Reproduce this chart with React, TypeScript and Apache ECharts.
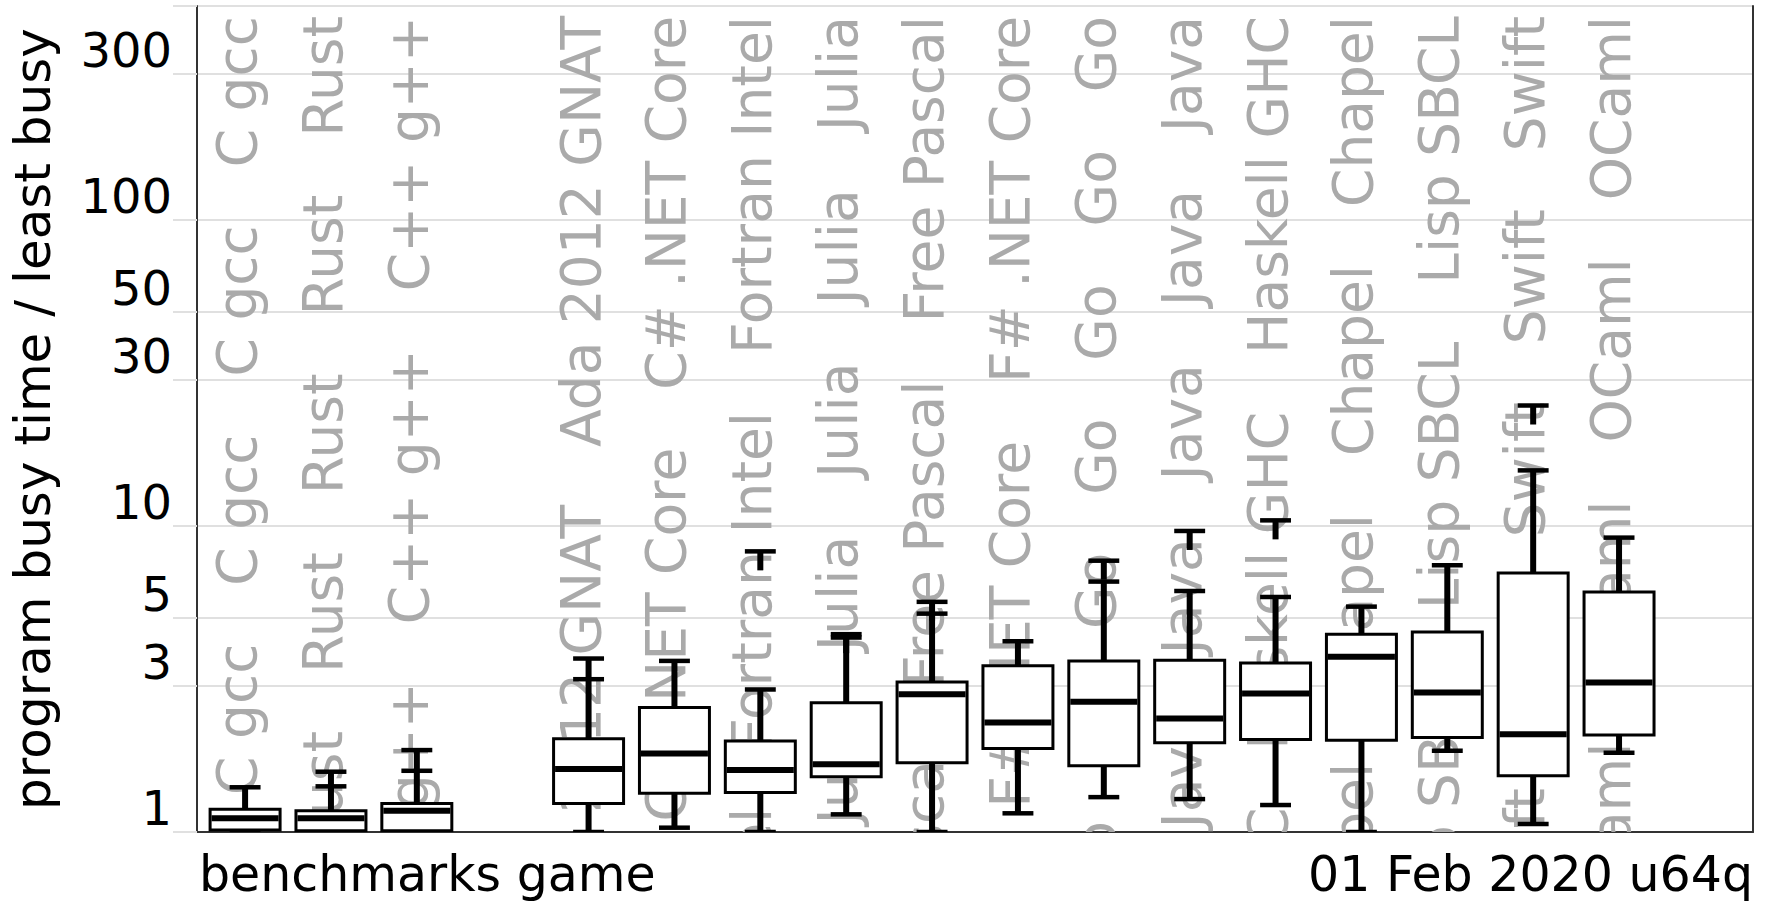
import React, { useEffect, useRef } from 'react';
import * as echarts from 'echarts';

const FONT = 'DejaVu Sans';

// categories along the x axis (blank slot = gap)
const categories = [
  'C gcc', 'Rust', 'C++ g++', '', 'Ada 2012 GNAT', 'C# .NET Core', 'Fortran Intel', 'Julia',
  'Free Pascal', 'F# .NET Core', 'Go', 'Java', 'Haskell GHC', 'Chapel', 'Lisp SBCL', 'Swift', 'OCaml',
];

// box-plot statistics (program busy time / least busy)
const whiskerLow = [1.0, 1.0, 1.0, null, 1.0, 1.033, 1.0, 1.142, 1.0, 1.151, 1.30, 1.281, 1.225, 1.0, 1.843, 1.062, 1.815];
const quartile1 = [1.015, 1.01, 1.01, null, 1.24, 1.338, 1.347, 1.515, 1.684, 1.876, 1.646, 1.957, 2.007, 1.996, 2.037, 1.527, 2.073];
const medians = [1.108, 1.108, 1.174, null, 1.606, 1.805, 1.594, 1.664, 2.821, 2.28, 2.663, 2.35, 2.836, 3.735, 2.857, 2.088, 3.079];
const quartile3 = [1.186, 1.174, 1.24, null, 2.017, 2.553, 1.982, 2.642, 3.094, 3.49, 3.623, 3.642, 3.568, 4.43, 4.505, 7.02, 6.087];
const whiskerHigh = [1.40, 1.41, 1.585, null, 3.157, 3.623, 2.922, 4.319, 5.17, 4.20, 6.58, 6.13, 5.86, 5.45, 7.44, 15.19, 9.16];
const outliers: number[][] = [[], [1.574], [1.852], [], [3.688], [], [8.26], [4.43], [5.65], [], [7.70], [9.63], [10.43], [], [], [24.75], []];

// y axis ticks
const yTicks = [1, 3, 5, 10, 30, 50, 100, 300, 500];
const yTickLabels = ['1', '3', '5', '10', '30', '50', '100', '300', ''];

const Y_MAX = 500;
const X_MIN = 0.44;
const X_MAX = 18.56;

const lg = (v: number) => Math.log10(v);

export default function App() {
  const ref = useRef<HTMLDivElement>(null);

  useEffect(() => {
    if (!ref.current) return;
    const chart = echarts.init(ref.current, undefined, { renderer: 'svg' });

    const rowIdx: number[] = [];
    const data: number[][] = [];
    categories.forEach((c, i) => {
      if (!c) return;
      rowIdx.push(i);
      data.push([
        i + 1,
        lg(whiskerLow[i] as number),
        lg(quartile1[i] as number),
        lg(medians[i] as number),
        lg(quartile3[i] as number),
        lg(whiskerHigh[i] as number),
      ]);
    });

    const SEP = '\u00a0\u00a0\u00a0\u200a';

    const renderItem = (params: any, api: any) => {
      const k = rowIdx[params.dataIndex];
      const x = api.value(0);
      const unit = api.size([1, 0])[0];
      const bw = unit * 0.815;
      const cw = unit * 0.36;
      const pLo = api.coord([x, api.value(1)]);
      const cx = pLo[0];
      const yLo = pLo[1];
      const yQ1 = api.coord([x, api.value(2)])[1];
      const yMed = api.coord([x, api.value(3)])[1];
      const yQ3 = api.coord([x, api.value(4)])[1];
      const yHi = api.coord([x, api.value(5)])[1];
      const black = '#000';
      const label = Array(8).fill(categories[k]).join(SEP);
      const children: any[] = [
        {
          type: 'text',
          x: cx - unit * 0.093,
          y: params.coordSys.y + 10,
          rotation: Math.PI / 2,
          style: {
            text: label,
            fill: '#aaaaaa',
            fontSize: 55,
            fontFamily: FONT,
            align: 'right',
            verticalAlign: 'middle',
          },
        },
        { type: 'line', shape: { x1: cx, y1: yLo, x2: cx, y2: yQ1 }, style: { stroke: black, lineWidth: 6 } },
        { type: 'line', shape: { x1: cx, y1: yQ3, x2: cx, y2: yHi }, style: { stroke: black, lineWidth: 6 } },
        { type: 'line', shape: { x1: cx - cw / 2, y1: yLo, x2: cx + cw / 2, y2: yLo }, style: { stroke: black, lineWidth: 4.5 } },
        { type: 'line', shape: { x1: cx - cw / 2, y1: yHi, x2: cx + cw / 2, y2: yHi }, style: { stroke: black, lineWidth: 4.5 } },
      ];
      outliers[k].forEach((o) => {
        const yo = api.coord([x, lg(o)])[1];
        children.push({ type: 'line', shape: { x1: cx, y1: yo, x2: cx, y2: yo + 19 }, style: { stroke: black, lineWidth: 6 } });
        children.push({ type: 'line', shape: { x1: cx - cw / 2, y1: yo, x2: cx + cw / 2, y2: yo }, style: { stroke: black, lineWidth: 4.5 } });
      });
      children.push({
        type: 'rect',
        shape: { x: cx - bw / 2, y: yQ3, width: bw, height: yQ1 - yQ3 },
        style: { fill: '#fff', stroke: black, lineWidth: 3 },
      });
      children.push({
        type: 'line',
        shape: { x1: cx - bw / 2 + 1.5, y1: yMed, x2: cx + bw / 2 - 1.5, y2: yMed },
        style: { stroke: black, lineWidth: 6 },
      });
      return { type: 'group', children };
    };

    const tickVals = yTicks.map(lg);

    chart.setOption({
      animation: false,
      backgroundColor: '#fff',
      grid: { left: 197, right: 17, top: 6, bottom: 70, containLabel: false, outerBoundsMode: 'none' },
      xAxis: {
        type: 'value',
        min: X_MIN,
        max: X_MAX,
        axisLine: { show: true, lineStyle: { color: '#333', width: 2 } },
        axisTick: { show: false },
        axisLabel: { show: false },
        splitLine: { show: false },
      },
      yAxis: [
        {
          type: 'value',
          min: 0,
          max: lg(Y_MAX),
          name: 'program busy time / least busy',
          nameLocation: 'middle',
          nameRotate: 90,
          nameGap: 139,
          nameTextStyle: { fontSize: 50, fontFamily: FONT, color: '#000' },
          axisLine: { show: true, lineStyle: { color: '#333', width: 2 } },
          axisTick: { show: true, customValues: tickVals, length: 24, lineStyle: { color: '#e0e0e0', width: 2 } },
          axisLabel: {
            show: true,
            customValues: tickVals,
            margin: 25,
            fontSize: 48,
            fontFamily: FONT,
            color: '#000',
            verticalAlign: 'bottom',
            lineHeight: 48,
            formatter: (v: number) => {
              let best = 0;
              tickVals.forEach((t, i) => {
                if (Math.abs(t - v) < Math.abs(tickVals[best] - v)) best = i;
              });
              return yTickLabels[best];
            },
          },
          splitLine: { show: true, lineStyle: { color: '#e0e0e0', width: 2 } },
        },
        {
          type: 'value',
          position: 'right',
          min: 0,
          max: lg(Y_MAX),
          axisLine: { show: true, lineStyle: { color: '#333', width: 2 } },
          axisTick: { show: false },
          axisLabel: { show: false },
          splitLine: { show: false },
        },
      ],
      graphic: [
        {
          type: 'text',
          x: 199,
          y: 874,
          style: { text: 'benchmarks game', fontSize: 49, fontFamily: FONT, fill: '#000', align: 'left', verticalAlign: 'middle' },
        },
        {
          type: 'text',
          x: 1753,
          y: 874,
          style: { text: '01 Feb 2020 u64q', fontSize: 49, fontFamily: FONT, fill: '#000', align: 'right', verticalAlign: 'middle' },
        },
      ],
      series: [
        {
          type: 'custom',
          name: 'busy',
          coordinateSystem: 'cartesian2d',
          xAxisIndex: 0,
          yAxisIndex: 0,
          clip: true,
          silent: true,
          renderItem,
          encode: { x: 0, y: [1, 2, 3, 4, 5] },
          data,
        },
      ],
    });

    return () => chart.dispose();
  }, []);

  return (
    <div
      ref={ref}
      style={{ position: 'fixed', left: 0, top: 0, width: 1770, height: 902, background: '#fff' }}
    />
  );
}
